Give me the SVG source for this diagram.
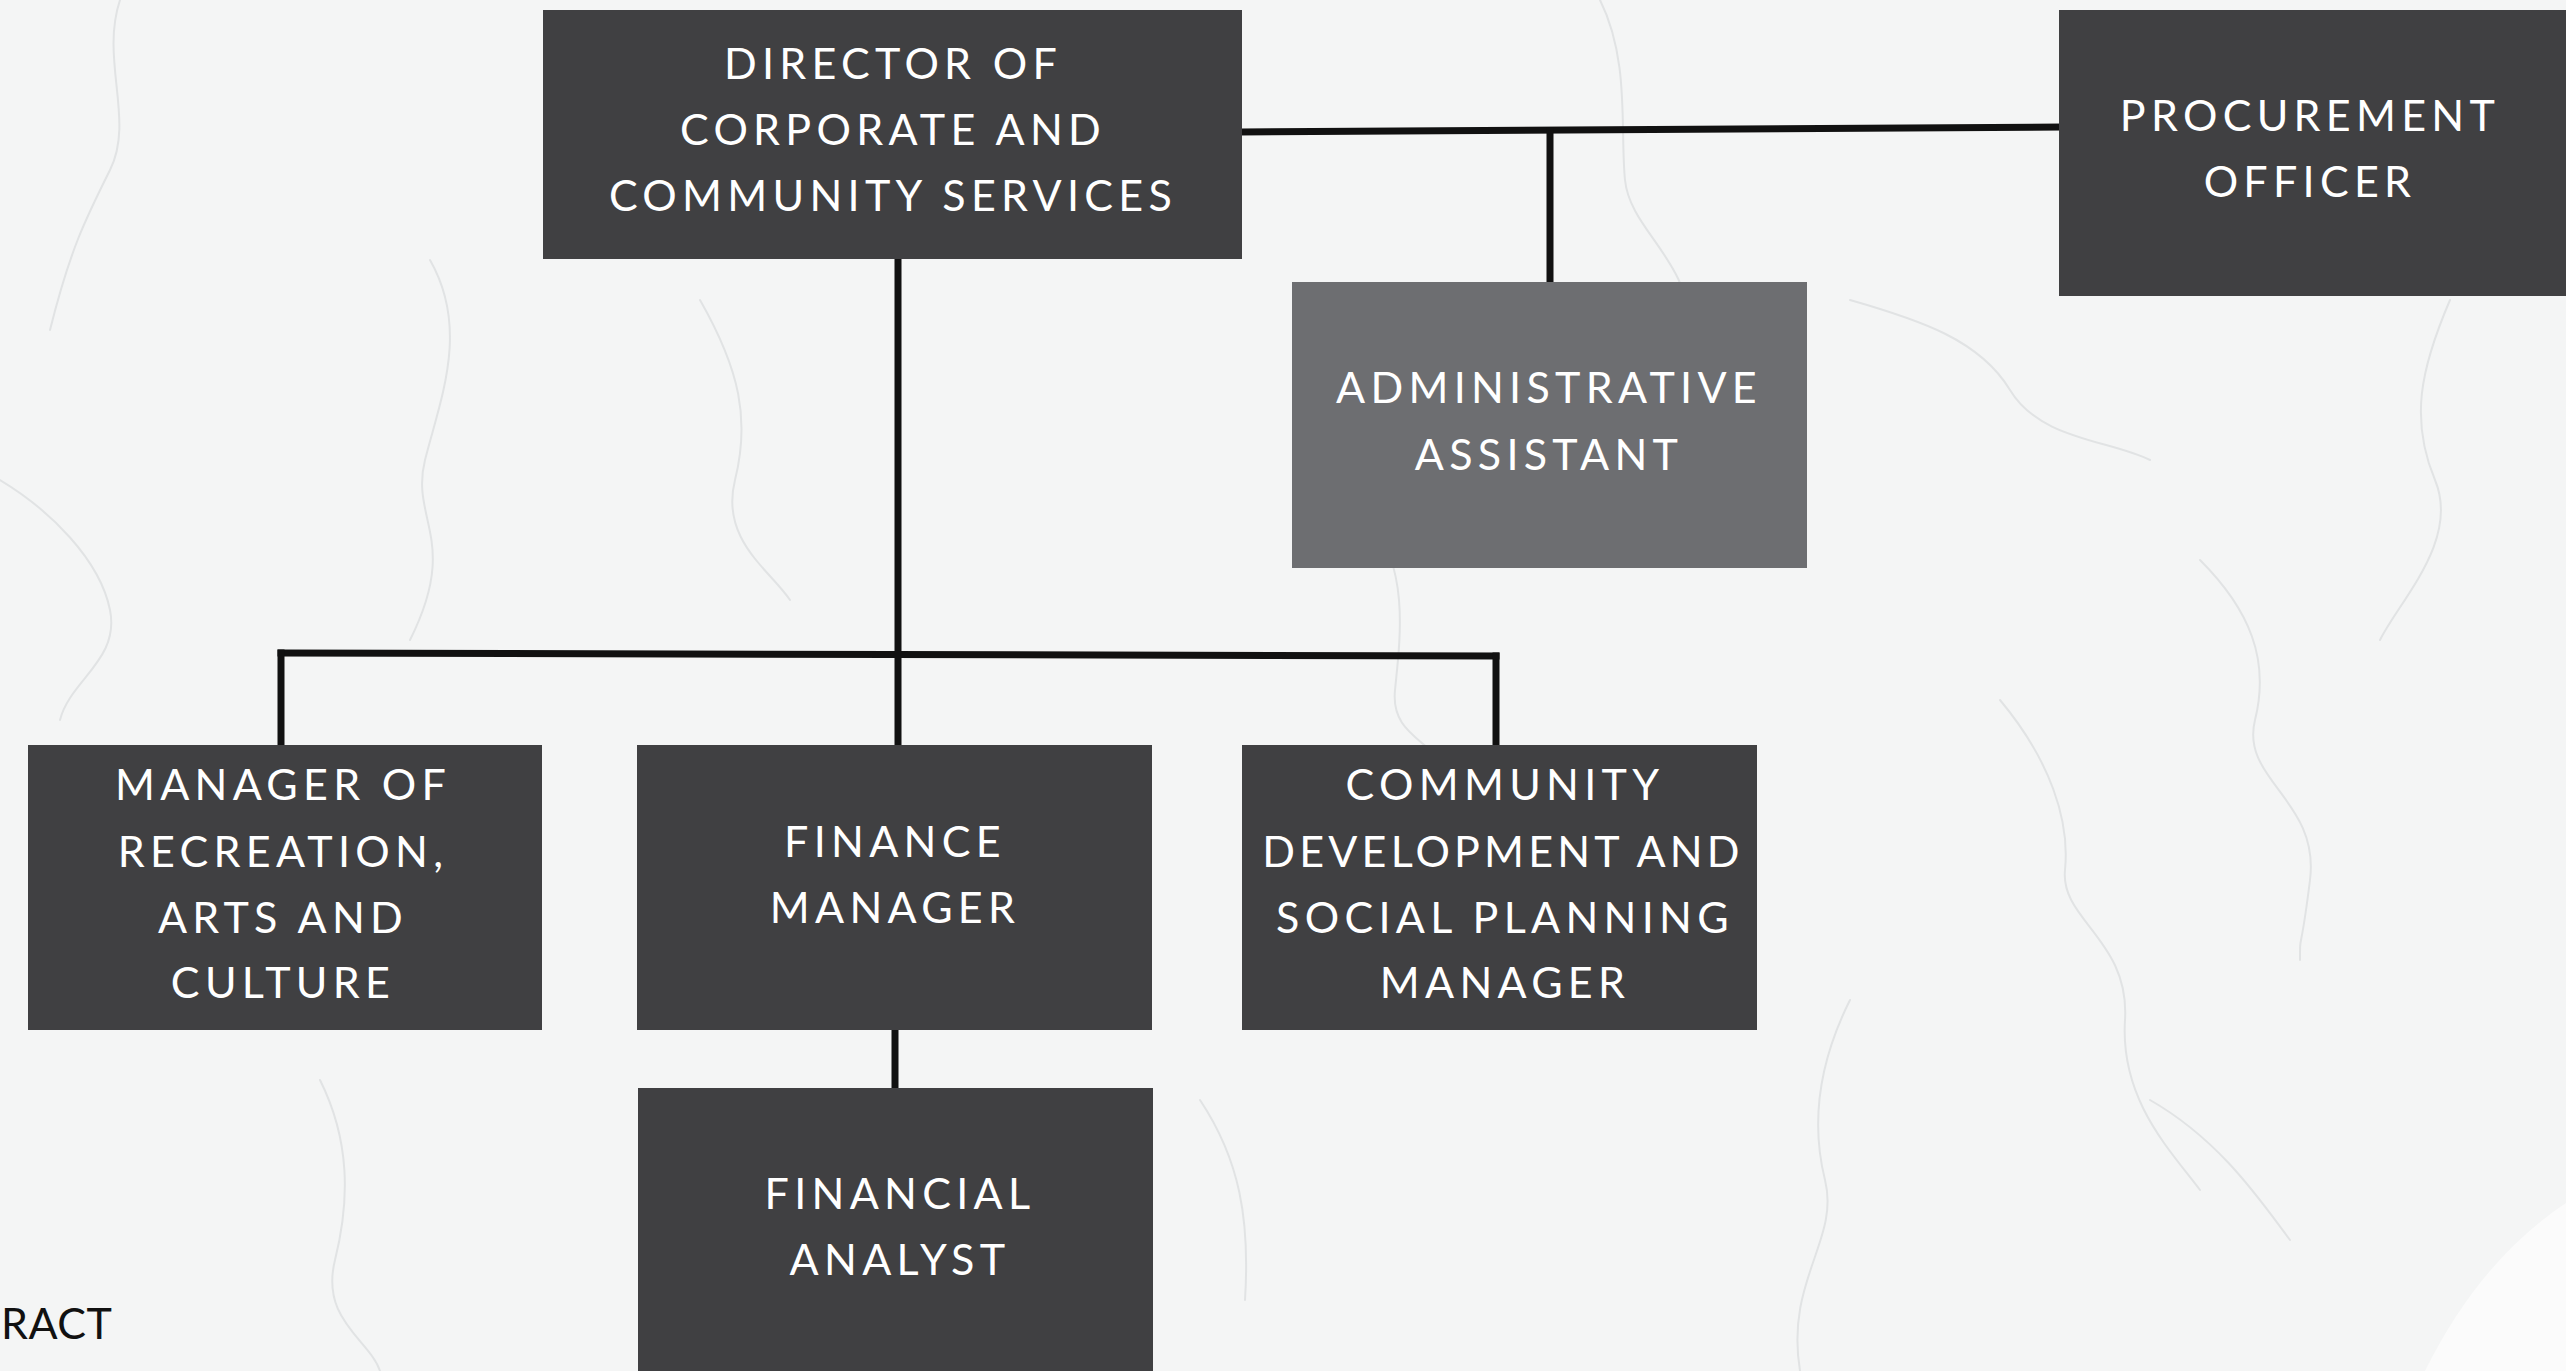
<svg xmlns="http://www.w3.org/2000/svg" width="2566" height="1371" viewBox="0 0 2566 1371">
  <style>
    .box { fill: #404042; }
    .box-light { fill: #6d6e71; }
    .lbl { font-family: Lato, "Open Sans", "Liberation Sans", sans-serif; font-size: 43px; fill: #ffffff; text-anchor: middle; letter-spacing: 5.3px; }
    .tight { letter-spacing: 4.2px; }
    .conn { stroke: #111111; stroke-width: 7; fill: none; stroke-linecap: square; }
    .vein { stroke: #e1e3e4; fill: none; stroke-linecap: round; stroke-linejoin: round; stroke-width: 2; }
  </style>
  <rect x="0" y="0" width="2566" height="1371" fill="#f4f5f5"/>
  <g id="texture">
    <path class="vein" d="M120 0 C100 60 135 120 110 170 S70 250 50 330"/>
    <path class="vein" d="M430 260 C470 330 440 400 425 460 S460 540 410 640"/>
    <path class="vein" d="M0 480 C50 510 100 560 110 610 S70 680 60 720"/>
    <path class="vein" d="M1370 520 C1410 570 1400 640 1395 690 S1440 740 1450 780"/>
    <path class="vein" d="M1600 0 C1630 60 1620 130 1625 180 S1690 260 1690 330 S1730 450 1740 490"/>
    <path class="vein" d="M1850 300 C1920 320 1980 340 2010 390 S2110 440 2150 460"/>
    <path class="vein" d="M2200 560 C2250 610 2270 660 2255 720 S2320 800 2310 880 S2300 930 2300 960"/>
    <path class="vein" d="M2000 700 C2050 760 2070 820 2065 870 S2130 940 2125 1020 S2170 1150 2200 1190"/>
    <path class="vein" d="M1850 1000 C1820 1060 1810 1120 1825 1180 S1785 1280 1800 1371"/>
    <path class="vein" d="M320 1080 C350 1140 350 1200 335 1260 S370 1340 380 1371"/>
    <path class="vein" d="M2450 300 C2420 370 2410 420 2435 480 S2400 600 2380 640"/>
    <path class="vein" d="M1200 1100 C1240 1160 1250 1220 1245 1300"/>
    <path class="vein" d="M700 300 C740 370 750 420 735 480 S770 570 790 600"/>
    <path class="vein" d="M2150 1100 C2220 1140 2260 1200 2290 1240"/>
  </g>
  <path d="M2566 1203 Q2480 1260 2425 1371 L2566 1371 Z" fill="#fbfbfb"/>
  <g id="connectors">
    <line class="conn" x1="1242" y1="132" x2="2059" y2="127"/>
    <line class="conn" x1="1550" y1="131" x2="1550" y2="282"/>
    <line class="conn" x1="898" y1="259" x2="898" y2="745"/>
    <line class="conn" x1="281" y1="653" x2="1496" y2="656"/>
    <line class="conn" x1="281" y1="653" x2="281" y2="745"/>
    <line class="conn" x1="1496" y1="656" x2="1496" y2="745"/>
    <line class="conn" x1="895" y1="1030" x2="895" y2="1088"/>
  </g>
  <g id="director">
    <rect class="box" x="543" y="10" width="699" height="249"/>
    <text class="lbl" x="893" y="79">DIRECTOR OF</text>
    <text class="lbl" x="893" y="145">CORPORATE AND</text>
    <text class="lbl" x="893" y="211">COMMUNITY SERVICES</text>
  </g>
  <g id="admin-assistant">
    <rect class="box-light" x="1292" y="282" width="515" height="286"/>
    <text class="lbl" x="1549" y="403">ADMINISTRATIVE</text>
    <text class="lbl" x="1549" y="470">ASSISTANT</text>
  </g>
  <g id="procurement">
    <rect class="box" x="2059" y="10" width="507" height="286"/>
    <text class="lbl" x="2310" y="131">PROCUREMENT</text>
    <text class="lbl" x="2310" y="197">OFFICER</text>
  </g>
  <g id="manager-recreation">
    <rect class="box" x="28" y="745" width="514" height="285"/>
    <text class="lbl" x="283" y="800">MANAGER OF</text>
    <text class="lbl" x="283" y="867">RECREATION,</text>
    <text class="lbl" x="283" y="933">ARTS AND</text>
    <text class="lbl" x="283" y="998">CULTURE</text>
  </g>
  <g id="finance-manager">
    <rect class="box" x="637" y="745" width="515" height="285"/>
    <text class="lbl" x="895" y="857">FINANCE</text>
    <text class="lbl" x="895" y="923">MANAGER</text>
  </g>
  <g id="community-development">
    <rect class="box" x="1242" y="745" width="515" height="285"/>
    <text class="lbl" x="1505" y="800">COMMUNITY</text>
    <text class="lbl tight" x="1503" y="867">DEVELOPMENT AND</text>
    <text class="lbl" x="1505" y="933">SOCIAL PLANNING</text>
    <text class="lbl" x="1505" y="998">MANAGER</text>
  </g>
  <g id="financial-analyst">
    <rect class="box" x="638" y="1088" width="515" height="283"/>
    <text class="lbl" x="900" y="1209">FINANCIAL</text>
    <text class="lbl" x="900" y="1275">ANALYST</text>
  </g>
  <text x="1" y="1339" font-family="Lato, 'Open Sans', 'Liberation Sans', sans-serif" font-size="43" fill="#111111" letter-spacing="0.5">RACT</text>
</svg>
